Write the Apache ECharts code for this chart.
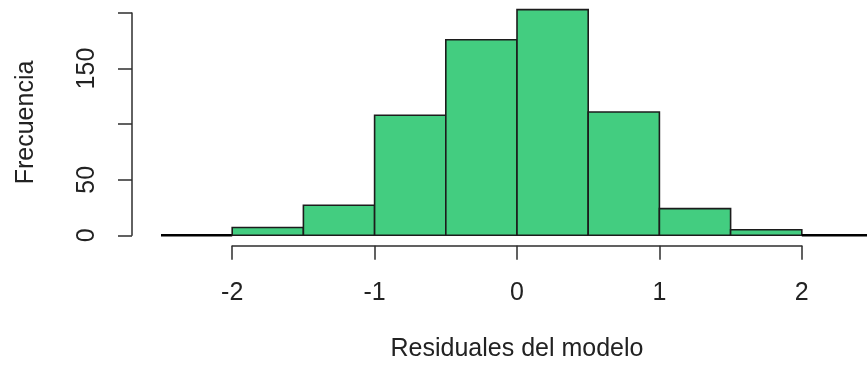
<!DOCTYPE html>
<html>
<head>
<meta charset="utf-8">
<script src="https://cdn.jsdelivr.net/npm/echarts@6/dist/echarts.min.js"></script>
<style>
html,body{margin:0;padding:0;background:#fff;}
#chart{width:867px;height:370px;}
</style>
</head>
<body>
<div id="chart"></div>
<script>
// Histogram bin breaks and counts
const breaks = [-2.5, -2, -1.5, -1, -0.5, 0, 0.5, 1, 1.5, 2, 2.5];
const counts = [0, 7, 27, 108, 176, 203, 111, 24, 5, 0];
// Axis ticks and the labels drawn at them (R drops overlapping y labels)
const xTicks = [-2, -1, 0, 1, 2];
const xTickLabels = ['-2', '-1', '0', '1', '2'];
const yTicks = [0, 50, 100, 150, 200];
const yTickLabels = ['0', '50', '', '150', ''];
const xTitle = 'Residuales del modelo';
const yTitle = 'Frecuencia';

const bins = counts.map((c, i) => [breaks[i], breaks[i + 1], c]);

const FONT = 'Liberation Sans, Arial, sans-serif';
const TXT = '#222';
const AX = '#2e2e2e';

function labelFor(ticks, labels) {
  return function (v) {
    const i = ticks.indexOf(v);
    return i >= 0 ? labels[i] : '';
  };
}

const chart = echarts.init(document.getElementById('chart'), null, {renderer: 'canvas'});
chart.setOption({
  animation: false,
  backgroundColor: '#fff',
  grid: [
    {left: 161, right: -6, top: 9.67, bottom: 134.7, outerBoundsMode: 'none'},
    {left: 232.2, right: 65.2, top: 200, bottom: 124.3, outerBoundsMode: 'none'},
    {left: 132, right: 700, top: 13, bottom: 134.7, outerBoundsMode: 'none'}
  ],
  xAxis: [
    {gridIndex: 0, type: 'value', min: breaks[0], max: breaks[breaks.length - 1], show: false, splitLine: {show: false}},
    {
      gridIndex: 1, type: 'value', position: 'bottom',
      min: xTicks[0], max: xTicks[xTicks.length - 1], interval: xTicks[1] - xTicks[0],
      axisLine: {show: true, lineStyle: {color: AX, width: 1.5}},
      axisTick: {show: true, length: 14, lineStyle: {color: AX, width: 1.5}},
      axisLabel: {show: true, margin: 34.5, color: TXT, fontFamily: FONT, fontSize: 25,
                  formatter: labelFor(xTicks, xTickLabels)},
      splitLine: {show: false},
      name: xTitle, nameLocation: 'middle', nameGap: 91,
      nameTextStyle: {color: TXT, fontFamily: FONT, fontSize: 25}
    },
    {gridIndex: 2, type: 'value', show: false, splitLine: {show: false}}
  ],
  yAxis: [
    {
      gridIndex: 0, type: 'value', min: 0, max: 203,
      axisLine: {show: false}, axisTick: {show: false}, axisLabel: {show: false}, splitLine: {show: false},
      name: yTitle, nameLocation: 'middle', nameGap: 122.5,
      nameTextStyle: {color: TXT, fontFamily: FONT, fontSize: 25}
    },
    {gridIndex: 1, type: 'value', show: false, splitLine: {show: false}},
    {
      gridIndex: 2, type: 'value', position: 'left',
      min: yTicks[0], max: yTicks[yTicks.length - 1], interval: yTicks[1] - yTicks[0],
      axisLine: {show: true, lineStyle: {color: AX, width: 1.5}},
      axisTick: {show: true, length: 14, lineStyle: {color: AX, width: 1.5}},
      axisLabel: {show: true, rotate: 90, margin: 32.5, color: TXT, fontFamily: FONT, fontSize: 25,
                  formatter: labelFor(yTicks, yTickLabels)},
      splitLine: {show: false}
    }
  ],
  series: [{
    type: 'custom',
    xAxisIndex: 0, yAxisIndex: 0,
    clip: false,
    data: bins,
    encode: {x: [0, 1], y: 2},
    renderItem: function (params, api) {
      const p0 = api.coord([api.value(0), api.value(2)]);
      const p1 = api.coord([api.value(1), 0]);
      const empty = api.value(2) === 0;
      return {
        type: 'rect',
        shape: {x: p0[0], y: p0[1], width: p1[0] - p0[0], height: p1[1] - p0[1]},
        style: {fill: '#43CD80', stroke: empty ? '#000' : '#1c1c1c', lineWidth: empty ? 2.6 : 1.6}
      };
    }
  }]
});
</script>
</body>
</html>
